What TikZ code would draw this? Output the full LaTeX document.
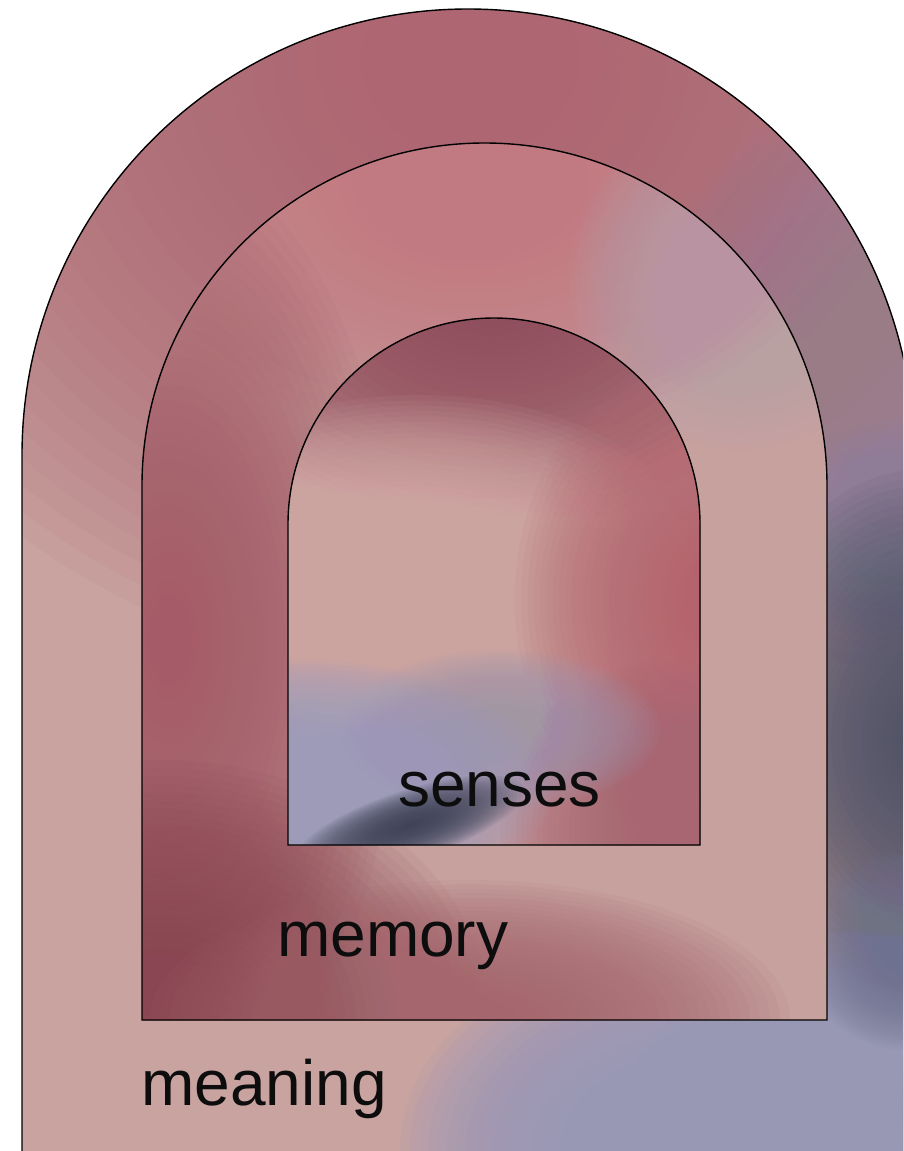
\documentclass[tikz,border=0pt]{standalone}
\usepackage{fontspec}
\setmainfont{Liberation Sans}
\definecolor{oBase}{HTML}{C8A3A0}
\definecolor{oTop}{HTML}{AE6673}
\definecolor{oPurp}{HTML}{9A7C94}
\definecolor{oMauve}{HTML}{8F88A3}
\definecolor{oDark}{HTML}{4C5168}
\definecolor{oSlate}{HTML}{6E7290}
\definecolor{oLav}{HTML}{9898BC}
\definecolor{mBase}{HTML}{C7A19E}
\definecolor{mTop}{HTML}{C27A82}
\definecolor{mGrey}{HTML}{B9A0AE}
\definecolor{mLeft}{HTML}{A65C68}
\definecolor{mDark}{HTML}{8A4652}
\definecolor{mBot}{HTML}{A6666E}
\definecolor{iBase}{HTML}{C89B9B}
\definecolor{iTop}{HTML}{8E4A5A}
\definecolor{iLight}{HTML}{D8B0AC}
\definecolor{iRed}{HTML}{B5646E}
\definecolor{iRedB}{HTML}{A86672}
\definecolor{iLav}{HTML}{9D9EC0}
\definecolor{iMauve}{HTML}{A296B0}
\definecolor{iDark}{HTML}{3C4154}
% soft blob: 32 stacked translucent ellipses
\newcommand\softoval[6][0.075]{%
  \foreach \k in {1,...,32}{%
    \fill[#2, opacity=#1] (#3,#4) ellipse [x radius={#5/32*\k}, y radius={#6/32*\k}];}}
\tikzset{
  outerarch/.style={insert path={(22,1200) -- (22,455) arc[start angle=180,end angle=360,radius=446] -- (914,1200) -- cycle}},
  midarch/.style={insert path={(142,1020) -- (142,485.5) arc[start angle=180,end angle=360,radius=342.5] -- (827,1020) -- cycle}},
  innerarch/.style={insert path={(288,845) -- (288,524) arc[start angle=180,end angle=360,radius=206] -- (700,845) -- cycle}},
  archline/.style={draw=black, line width=1.4pt},
  lbl/.style={anchor=base west, inner sep=0pt, font=\fontsize{64}{64}\selectfont, text=black!95}
}
\begin{document}
\begin{tikzpicture}[x=1pt,y=-1pt]
\useasboundingbox (0,0) rectangle (903,1151);
\fill[white] (0,0) rectangle (903,1151);
\clip (0,0) rectangle (903,1151);
% outer band
\begin{scope}
\clip[outerarch];
\fill[oBase] (0,0) rectangle (903,1151);
\softoval{oTop}{470}{60}{700}{620}
\softoval{oPurp}{903}{380}{260}{300}
\softoval{oMauve}{900}{530}{130}{110}
\softoval{oDark}{920}{740}{190}{270}
\softoval[0.12]{oLav}{700}{1150}{300}{210}
\softoval[0.12]{oLav}{880}{1100}{250}{170}
\softoval{oSlate}{910}{950}{110}{100}
\end{scope}
% middle band
\begin{scope}
\clip[midarch];
\fill[mBase] (0,0) rectangle (903,1151);
\softoval{mTop}{470}{180}{380}{260}
\softoval{mGrey}{740}{280}{170}{170}
\softoval{mLeft}{170}{640}{230}{480}
\softoval{mDark}{160}{1020}{330}{260}
\softoval{mBot}{470}{1020}{320}{140}
\end{scope}
% inner
\begin{scope}
\clip[innerarch];
\fill[iBase] (0,0) rectangle (903,1151);
\softoval{iTop}{490}{280}{340}{250}
\softoval{iLight}{420}{565}{280}{170}
\softoval{iRed}{715}{600}{200}{250}
\softoval{iRedB}{670}{830}{170}{170}
\softoval{iMauve}{500}{730}{160}{80}
\softoval[0.1]{iLav}{300}{790}{250}{130}
\begin{scope}[rotate around={18:(410,825)}]
\softoval[0.07]{iDark}{410}{825}{120}{35}
\end{scope}
\end{scope}
\path[archline, outerarch];
\path[archline, midarch];
\path[archline, innerarch];
\node[lbl] (senses) at (398,806) {senses};
\node[lbl] (memory) at (277,956) {memory};
\node[lbl] (meaning) at (141,1105) {meaning};
\end{tikzpicture}
\end{document}
